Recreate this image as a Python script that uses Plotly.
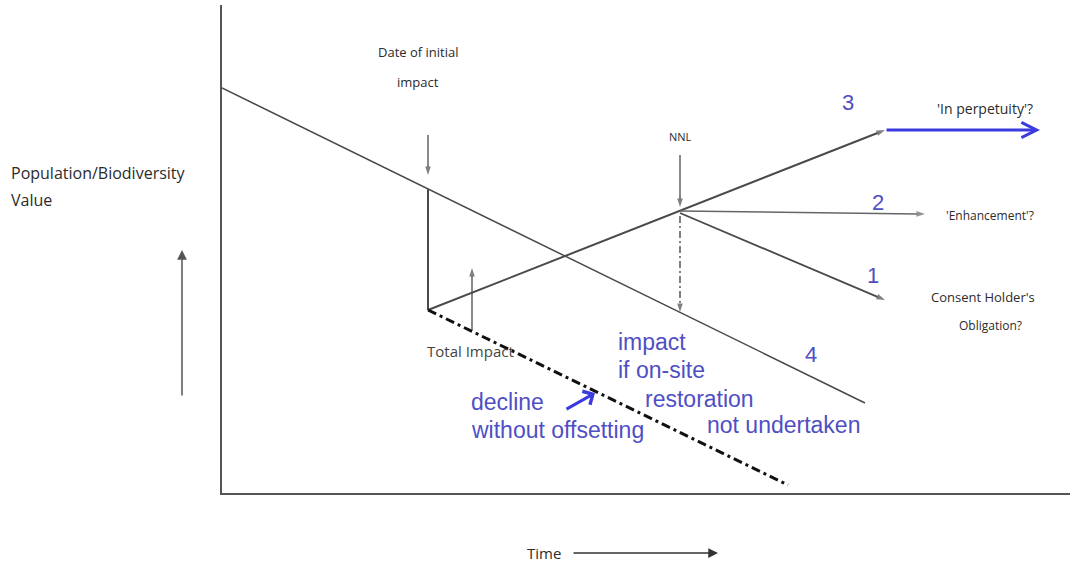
import plotly.graph_objects as go

# ---- data (time units on x, value units on y) ----
X_MAX, Y_MAX = 848, 488

baseline_x = [0, 643]
baseline_y = [405, 90]

impact_x = [206, 206]
impact_y = [304, 183]

recovery_x = [206, 663]          # path 3
recovery_y = [183, 363]

enhance_x = [458, 703]           # path 2
enhance_y = [282, 279]

obligation_x = [458, 663]        # path 1
obligation_y = [280, 193]

perpetuity_x = [663, 818]
perpetuity_y = [363, 363]

no_offset_x = [206, 566]
no_offset_y = [183, 8]

nnl_drop_x = [458, 458]
nnl_drop_y = [277, 181]

date_arrow_x = [206, 206]
date_arrow_y = [358, 318]

nnl_arrow_x = [458, 458]
nnl_arrow_y = [338, 286]

total_arrow_x = [250, 250]
total_arrow_y = [163, 225]

y_arrow_x = [-40, -40]
y_arrow_y = [96, 243]

time_arrow_x = [350, 496]
time_arrow_y = [-60, -60]

decline_arrow_x = [343, 373]
decline_arrow_y = [83, 100]

path_labels = ["3", "2", "1", "4"]
path_label_x = [626, 656, 651, 589]
path_label_y = [390, 291, 218, 139]

GRAY = "#4a4a4a"
BLUE = "#4f4fc4"
BBLUE = "#3a3ae0"
BLACK_TXT = "#2b2b2b"

fig = go.Figure()


def line(x, y, color=GRAY, width=1.6, dash="solid", arrow=False, asize=9):
    marker = None
    mode = "lines"
    if arrow:
        mode = "lines+markers"
        marker = dict(symbol=["circle", "arrow"], size=[0, asize], color=color,
                      angleref="previous", line=dict(width=0))
    fig.add_trace(go.Scatter(x=x, y=y, mode=mode,
                             line=dict(color=color, width=width, dash=dash),
                             marker=marker, hoverinfo="skip", showlegend=False,
                             cliponaxis=False))


line(baseline_x, baseline_y, width=1.5)
line(impact_x, impact_y, width=2)
line(recovery_x, recovery_y, width=2, arrow=True)
line(enhance_x, enhance_y, color="#666666", width=1.5, arrow=True)
line(obligation_x, obligation_y, width=1.8, arrow=True)
line(no_offset_x, no_offset_y, color="#111111", width=3, dash="9px,4px,3px,4px")
line(nnl_drop_x, nnl_drop_y, width=1.4, dash="7px,3px,2px,3px", arrow=True)
line(date_arrow_x, date_arrow_y, width=1.3, arrow=True)
line(nnl_arrow_x, nnl_arrow_y, width=1.3, arrow=True)
line(total_arrow_x, total_arrow_y, width=1.3, arrow=True)


def ann_arrow(x, y, color, width, head, size=1.0):
    fig.add_annotation(x=x[1], y=y[1], ax=x[0], ay=y[0], xref="x", yref="y",
                       axref="x", ayref="y", showarrow=True, arrowhead=head,
                       arrowsize=size, arrowwidth=width, arrowcolor=color, text="")


def paper_arrow(x, y, color, width, head, size=1.0):
    # for arrows outside the plotting range: paper position + pixel offset
    fig.add_annotation(x=x[1] / X_MAX, y=y[1] / Y_MAX, xref="paper", yref="paper",
                       ax=x[0] - x[1], ay=-(y[0] - y[1]), axref="pixel", ayref="pixel",
                       showarrow=True, arrowhead=head, arrowsize=size,
                       arrowwidth=width, arrowcolor=color, text="")


ann_arrow(perpetuity_x, perpetuity_y, BBLUE, 3, 5, 1.0)
ann_arrow(decline_arrow_x, decline_arrow_y, BBLUE, 3, 4, 1.0)
paper_arrow(y_arrow_x, y_arrow_y, "#555555", 1.5, 2, 1.3)
paper_arrow(time_arrow_x, time_arrow_y, "#333333", 1.5, 2, 1.3)


def txt(t, x, y, size=12, color=BLACK_TXT, xanchor="center", family="Open Sans"):
    fig.add_annotation(x=x / X_MAX, y=y / Y_MAX, xref="paper", yref="paper", text=t,
                       showarrow=False, xanchor=xanchor, yanchor="middle",
                       font=dict(family=family, size=size, color=color))


txt("Date of initial", 196, 441, size=13)
txt("impact", 196, 411, size=13)
txt("NNL", 458, 356, size=11)
txt("'In perpetuity'?", 763, 385, size=14)
txt("'Enhancement'?", 768, 278)
txt("Consent Holder's", 761, 196, size=13)
txt("Obligation?", 768, 168)
txt("Total Impact", 248, 142, size=15, color="#444444")
txt("Population/Biodiversity", -213, 320, size=16, xanchor="left")
txt("Value", -213, 293, size=16, xanchor="left")
txt("Time", 322, -60, size=15)

for lab, lx, ly in zip(path_labels, path_label_x, path_label_y):
    txt(lab, lx, ly, size=22, color=BLUE, family="Liberation Sans")

blue_lines = ["impact", "if on-site", "restoration", "not undertaken",
              "decline", "without offsetting"]
blue_x = [394, 394, 421, 483, 247, 247]
blue_y = [151, 123, 94, 68, 91, 63]
for t, bx, by in zip(blue_lines, blue_x, blue_y):
    txt(t, bx, by, size=23, color=BLUE, xanchor="left", family="Liberation Sans")

fig.update_xaxes(range=[0, X_MAX], showline=True, linecolor="#555555", linewidth=2,
                 showgrid=False, zeroline=False, showticklabels=False, ticks="")
fig.update_yaxes(range=[0, Y_MAX], showline=True, linecolor="#555555", linewidth=2,
                 showgrid=False, zeroline=False, showticklabels=False, ticks="")
fig.update_layout(width=1073, height=562, margin=dict(l=222, r=3, t=5, b=69),
                  plot_bgcolor="white", paper_bgcolor="white", showlegend=False)

fig.write_html("out.html", config={"displayModeBar": False},
               post_script="document.body.style.margin='0';"
                           "document.body.style.overflow='hidden';")
